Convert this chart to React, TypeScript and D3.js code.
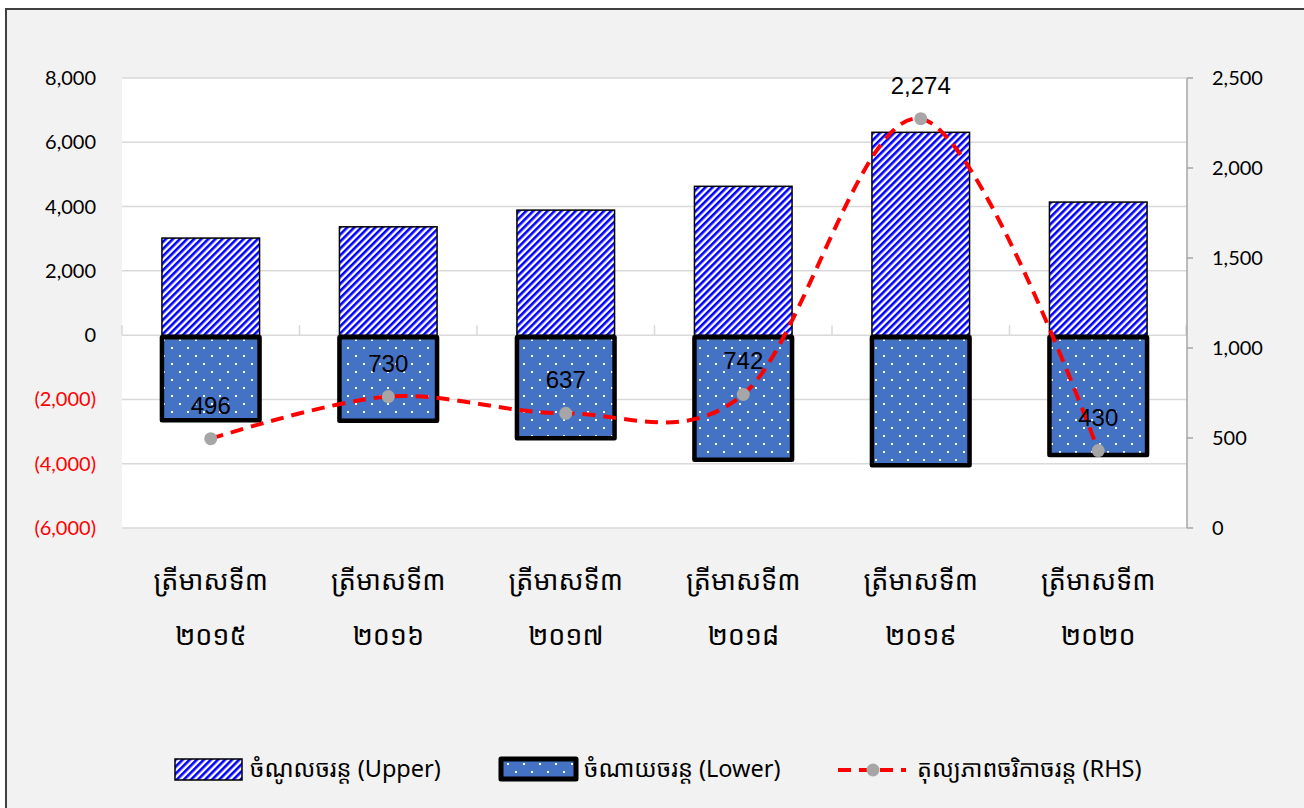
import React from "react";
import * as d3 from "d3";

const categories = ["ត្រីមាសទី៣|២០១៥", "ត្រីមាសទី៣|២០១៦", "ត្រីមាសទី៣|២០១៧", "ត្រីមាសទី៣|២០១៨", "ត្រីមាសទី៣|២០១៩", "ត្រីមាសទី៣|២០២០"];
const upperValues = [3020, 3370, 3890, 4630, 6310, 4140];
const lowerValues = [-2650, -2660, -3210, -3880, -4050, -3730];
const balanceValues = [496, 730, 637, 742, 2274, 430];
const leftTicks = [8000, 6000, 4000, 2000, 0, -2000, -4000, -6000];
const rightTicks = [0, 500, 1000, 1500, 2000, 2500];
const legendLabels = ["ចំណូលចរន្ត (Upper)", "ចំណាយចរន្ត (Lower)", "តុល្យភាពចរិកាចរន្ត (RHS)"];

const W = 1304;
const H = 808;
const plotL = 122;
const plotR = 1187;
const plotT = 78;
const plotB = 528;

const khmerFont = "'Noto Sans Khmer', 'Khmer OS', 'Noto Sans', 'DejaVu Sans', sans-serif";
const axisFont = "Lato, 'Open Sans', 'Noto Sans', sans-serif";
const narrowFont = "'Liberation Sans Narrow', 'Arial Narrow', 'Liberation Sans', Arial, sans-serif";

export default function App() {
  const x = d3.scaleBand<string>().domain(categories).range([plotL, plotR]).paddingInner(0.45).paddingOuter(0.225);
  const xOuter = d3.scaleBand<string>().domain(categories).range([plotL, plotR]);
  const yL = d3.scaleLinear().domain([-6000, 8000]).range([plotB, plotT]);
  const yR = d3.scaleLinear().domain([0, 2500]).range([plotB, plotT]);
  const fmt = d3.format(",");
  const leftFmt = (v: number) => (v < 0 ? `(${fmt(-v)})` : fmt(v));

  const pts: [number, number][] = balanceValues.map((v, i) => [
    (xOuter(categories[i]) as number) + xOuter.bandwidth() / 2,
    yR(v),
  ]);
  const line = d3.line().curve(d3.curveCardinal.tension(0))(pts) as string;
  const bw = x.bandwidth();

  return (
    <svg width={W} height={H} style={{ position: "absolute", left: 0, top: 0 }}>
      <defs>
        <pattern id="diag" patternUnits="userSpaceOnUse" width="5" height="5" patternTransform="rotate(45)">
          <rect width="5" height="5" fill="#ffffff" />
          <rect x="0" y="0" width="2.6" height="5" fill="#0000ff" />
        </pattern>
        <pattern id="dots" patternUnits="userSpaceOnUse" width="16" height="16">
          <rect width="16" height="16" fill="#4472c4" />
          <rect x="3" y="3" width="2" height="2" fill="#ffffff" />
          <rect x="11" y="11" width="2" height="2" fill="#ffffff" />
        </pattern>
      </defs>
      <rect x={0} y={0} width={W} height={H} fill="#ffffff" />
      <rect x={6} y={9} width={W + 20} height={H + 20} fill="#f2f2f2" stroke="#404040" strokeWidth={2} />
      <rect x={plotL} y={plotT} width={plotR - plotL} height={plotB - plotT} fill="#ffffff" />

      {leftTicks.map((t) => (
        <line key={"g" + t} x1={plotL} x2={plotR} y1={yL(t)} y2={yL(t)} stroke="#d9d9d9" strokeWidth={1.5} />
      ))}
      {categories.map((c, i) => (
        <line key={"ct" + i} x1={(xOuter(c) as number)} x2={(xOuter(c) as number)} y1={yL(0)} y2={yL(0) - 10} stroke="#d9d9d9" strokeWidth={1.5} />
      ))}
      <line x1={plotR - 1} x2={plotR - 1} y1={yL(0)} y2={yL(0) - 10} stroke="#d9d9d9" strokeWidth={1.5} />

      {leftTicks.map((t) => (
        <text key={"l" + t} x={96} y={yL(t) + 7} textAnchor="end" fontFamily={axisFont} fontSize={20} fill={t < 0 ? "#ff0000" : "#000000"}>
          {leftFmt(t)}
        </text>
      ))}

      <line x1={plotR} x2={plotR} y1={plotT} y2={plotB} stroke="#a6a6a6" strokeWidth={1.5} />
      {rightTicks.map((t) => (
        <g key={"r" + t}>
          <line x1={plotR} x2={plotR + 6} y1={yR(t)} y2={yR(t)} stroke="#a6a6a6" strokeWidth={1.5} />
          <text x={1212} y={yR(t) + 7} fontFamily={axisFont} fontSize={20} fill="#000000">
            {fmt(t)}
          </text>
        </g>
      ))}

      {categories.map((c, i) => (
        <g key={"b" + i}>
          <rect x={x(c) as number} y={yL(upperValues[i])} width={bw} height={yL(0) - yL(upperValues[i])} fill="url(#diag)" stroke="#000000" strokeWidth={1.5} />
          <rect x={x(c) as number} y={yL(0) + 2} width={bw} height={yL(lowerValues[i]) - yL(0) - 2} fill="url(#dots)" stroke="#000000" strokeWidth={4.5} strokeLinejoin="round" />
        </g>
      ))}

      <path d={line} fill="none" stroke="#ff0000" strokeWidth={4} strokeDasharray="13 8" />
      {pts.map((p, i) => (
        <circle key={"m" + i} cx={p[0]} cy={p[1]} r={6.5} fill="#a6a6a6" />
      ))}
      {pts.map((p, i) => (
        <text key={"dl" + i} x={p[0]} y={p[1] - 25} textAnchor="middle" fontFamily={narrowFont} fontSize={24} fill="#000000">
          {fmt(balanceValues[i])}
        </text>
      ))}

      {categories.map((c, i) => {
        const [a, b] = c.split("|");
        const cx = (xOuter(c) as number) + xOuter.bandwidth() / 2;
        return (
          <g key={"x" + i}>
            <text x={cx} y={590} textAnchor="middle" fontFamily={khmerFont} fontSize={27} fill="#000000">{a}</text>
            <text x={cx} y={645} textAnchor="middle" fontFamily={khmerFont} fontSize={27} fill="#000000">{b}</text>
          </g>
        );
      })}

      <rect x={175} y={759} width={67} height={21} fill="url(#diag)" stroke="#000000" strokeWidth={1.5} />
      <text x={250} y={777} fontFamily={khmerFont} fontSize={23.5} fill="#000000">{legendLabels[0]}</text>
      <rect x={501} y={759} width={75} height={20} fill="url(#dots)" stroke="#000000" strokeWidth={5} strokeLinejoin="round" />
      <text x={584} y={777} fontFamily={khmerFont} fontSize={23.5} fill="#000000">{legendLabels[1]}</text>
      <line x1={838} x2={906} y1={770} y2={770} stroke="#ff0000" strokeWidth={4} strokeDasharray="13 8" />
      <circle cx={873} cy={770} r={6.5} fill="#a6a6a6" />
      <text x={917} y={777} fontFamily={khmerFont} fontSize={23.5} fill="#000000">{legendLabels[2]}</text>
    </svg>
  );
}
